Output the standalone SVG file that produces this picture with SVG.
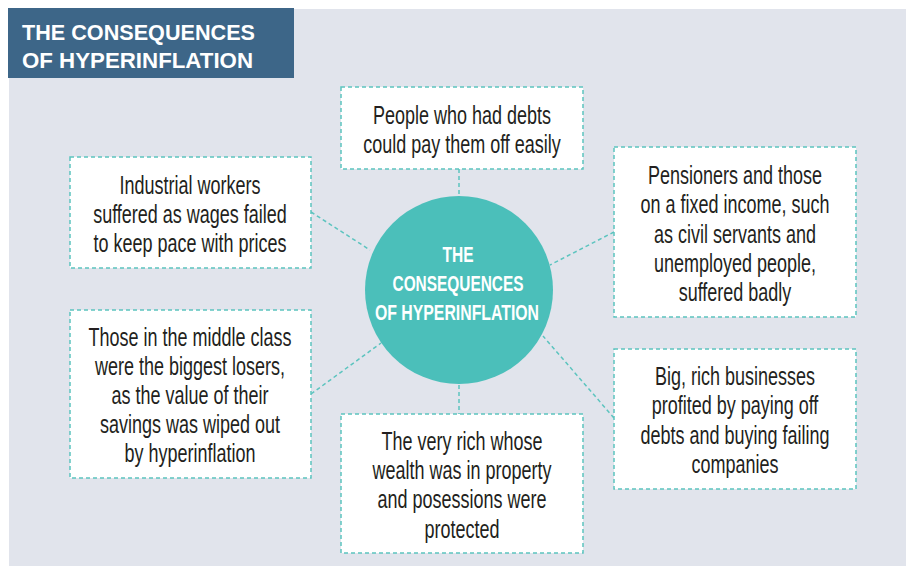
<svg xmlns="http://www.w3.org/2000/svg" width="906" height="566" viewBox="0 0 906 566">
<style>
.box{fill:#ffffff;stroke:#5cc4bf;stroke-width:1.5;stroke-dasharray:4 3}
.con{stroke:#5cc4bf;stroke-width:1.5;stroke-dasharray:4 3;fill:none}
.t{font-family:"Liberation Sans",Arial,sans-serif;font-size:25px;fill:#231f20;text-anchor:middle}
.ct{font-family:"Liberation Sans",Arial,sans-serif;font-size:22px;font-weight:bold;fill:#ffffff;text-anchor:middle}
.ht{font-family:"Liberation Sans",Arial,sans-serif;font-size:22px;font-weight:bold;fill:#ffffff}
</style>
<rect x="0" y="0" width="906" height="566" fill="#ffffff"/>
<rect x="9" y="9" width="897" height="557" fill="#e1e4ec"/>
<g id="title">
<rect x="8" y="8" width="286" height="70" fill="#3d6688"/>
<text class="ht" x="22" y="40" textLength="233" lengthAdjust="spacingAndGlyphs">THE CONSEQUENCES</text>
<text class="ht" x="22" y="68" textLength="231" lengthAdjust="spacingAndGlyphs">OF HYPERINFLATION</text>
</g>
<g id="connectors">
<line class="con" x1="459" y1="169" x2="459" y2="196"/>
<line class="con" x1="459" y1="385" x2="459" y2="414"/>
<line class="con" x1="311" y1="212" x2="370" y2="250"/>
<line class="con" x1="614" y1="232" x2="550" y2="265"/>
<line class="con" x1="311" y1="394" x2="381" y2="343"/>
<line class="con" x1="614" y1="418" x2="543" y2="336"/>
</g>
<g id="center">
<circle cx="459" cy="290" r="94" fill="#4bbfba"/>
<text class="ct" x="458" y="262" textLength="31" lengthAdjust="spacingAndGlyphs">THE</text>
<text class="ct" x="458" y="291" textLength="131" lengthAdjust="spacingAndGlyphs">CONSEQUENCES</text>
<text class="ct" x="457" y="320" textLength="164" lengthAdjust="spacingAndGlyphs">OF HYPERINFLATION</text>
</g>
<g id="node-debts">
<rect class="box" x="341" y="87" width="242" height="82"/>
<g transform="translate(462,0) scale(0.72,1)">
<text class="t" x="0" y="124">People who had debts</text>
<text class="t" x="0" y="153">could pay them off easily</text>
</g>
</g>
<g id="node-workers">
<rect class="box" x="70" y="157" width="241" height="111"/>
<g transform="translate(190,0) scale(0.72,1)">
<text class="t" x="0" y="194">Industrial workers</text>
<text class="t" x="0" y="223">suffered as wages failed</text>
<text class="t" x="0" y="252">to keep pace with prices</text>
</g>
</g>
<g id="node-pensioners">
<rect class="box" x="614" y="147" width="242" height="170"/>
<g transform="translate(735,0) scale(0.72,1)">
<text class="t" x="0" y="184">Pensioners and those</text>
<text class="t" x="0" y="213">on a fixed income, such</text>
<text class="t" x="0" y="243">as civil servants and</text>
<text class="t" x="0" y="272">unemployed people,</text>
<text class="t" x="0" y="301">suffered badly</text>
</g>
</g>
<g id="node-middle">
<rect class="box" x="70" y="310" width="241" height="168"/>
<g transform="translate(190,0) scale(0.72,1)">
<text class="t" x="0" y="346">Those in the middle class</text>
<text class="t" x="0" y="375">were the biggest losers,</text>
<text class="t" x="0" y="404">as the value of their</text>
<text class="t" x="0" y="433">savings was wiped out</text>
<text class="t" x="0" y="462">by hyperinflation</text>
</g>
</g>
<g id="node-rich">
<rect class="box" x="341" y="414" width="242" height="139"/>
<g transform="translate(462,0) scale(0.72,1)">
<text class="t" x="0" y="450">The very rich whose</text>
<text class="t" x="0" y="479">wealth was in property</text>
<text class="t" x="0" y="508">and posessions were</text>
<text class="t" x="0" y="538">protected</text>
</g>
</g>
<g id="node-business">
<rect class="box" x="614" y="349" width="242" height="140"/>
<g transform="translate(735,0) scale(0.72,1)">
<text class="t" x="0" y="385">Big, rich businesses</text>
<text class="t" x="0" y="414">profited by paying off</text>
<text class="t" x="0" y="444">debts and buying failing</text>
<text class="t" x="0" y="473">companies</text>
</g>
</g>
</svg>
